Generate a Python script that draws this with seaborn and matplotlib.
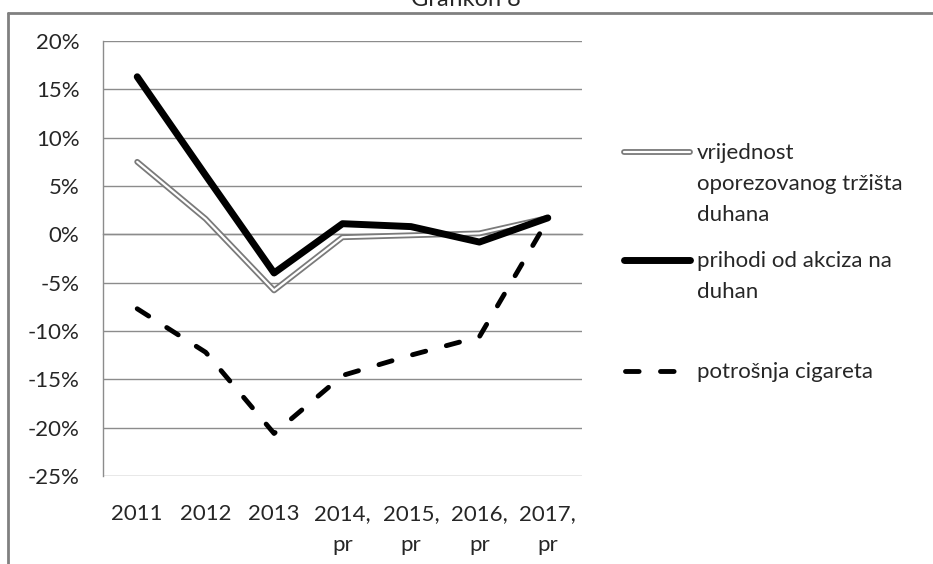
import seaborn as sns
import matplotlib.pyplot as plt
import matplotlib.ticker as ticker
import matplotlib.patheffects as pe
from matplotlib.lines import Line2D
import pandas as pd

sns.set_style("white")
plt.rcParams["font.family"] = ["Lato", "DejaVu Sans"]
plt.rcParams["font.size"] = 16

# data (% change)
years = ["2011", "2012", "2013", "2014,\npr", "2015,\npr", "2016,\npr", "2017,\npr"]
vrijednost = [7.5, 1.6, -5.8, -0.3, -0.1, 0.1, 1.7]
prihodi = [16.3, 6.1, -4.0, 1.1, 0.8, -0.8, 1.7]
potrosnja = [-7.7, -12.2, -20.6, -14.6, -12.5, -10.6, 1.5]

labels = ["vrijednost\noporezovanog tržišta\nduhana",
          "prihodi od akciza na\nduhan",
          "potrošnja cigareta"]

df = pd.DataFrame({"idx": range(len(years)),
                   "vrijednost": [v / 100 for v in vrijednost],
                   "prihodi": [v / 100 for v in prihodi],
                   "potrosnja": [v / 100 for v in potrosnja]})

W, H = 933, 564
fig = plt.figure(figsize=(W / 100, H / 100), dpi=100)
ax = fig.add_axes([103 / W, 1 - 476 / H, (582 - 103) / W, (476 - 41) / H])

grid_c = "#8c8c8c"
txt_c = "#262626"
double = [pe.Stroke(linewidth=4.2, foreground="#7a7a7a"), pe.Stroke(linewidth=1.6, foreground="white")]
dash_kw = dict(color="black", lw=3.5, dashes=(2.8, 4.4), dash_capstyle="round")

sns.lineplot(data=df, x="idx", y="vrijednost", ax=ax, color="white", lw=1.6,
             path_effects=double, zorder=3)
sns.lineplot(data=df, x="idx", y="prihodi", ax=ax, color="black", lw=5, zorder=4,
             solid_capstyle="round")
sns.lineplot(data=df, x="idx", y="potrosnja", ax=ax, zorder=3, **dash_kw)

ax.set_xlim(-0.5, len(years) - 0.5)
ax.set_ylim(-0.25, 0.20)
ax.yaxis.set_major_locator(ticker.MultipleLocator(0.05))
ax.yaxis.set_major_formatter(ticker.FuncFormatter(lambda v, p: f"{round(v * 100)}%"))
ax.grid(True, axis="y", color=grid_c, lw=1)
ax.set_axisbelow(True)
ax.set_xlabel("")
ax.set_ylabel("")

for s in ["top", "right"]:
    ax.spines[s].set_visible(False)
ax.spines["left"].set_color(grid_c)
ax.spines["left"].set_linewidth(1)
# category axis crosses at 0%, ticks between categories
ax.spines["bottom"].set_position(("data", 0))
ax.spines["bottom"].set_color(grid_c)
ax.spines["bottom"].set_linewidth(1)
ax.set_xticks([i + 0.5 for i in range(len(years))])
ax.tick_params(axis="x", which="both", direction="out", length=6, color=grid_c,
               labelbottom=False)
ax.tick_params(axis="y", direction="out", length=6, color=grid_c, pad=11,
               labelsize=16, labelcolor=txt_c)

sec = ax.secondary_xaxis("bottom")
sec.set_xticks(range(len(years)))
sec.set_xticklabels(years, fontsize=16, color=txt_c, linespacing=1.7)
sec.tick_params(length=0, pad=20)
sec.spines["bottom"].set_visible(False)

# legend, drawn to look like the Excel one
lx0, lx1, tx = 622 / W, 690 / W, 697 / W
entries = [
    (152, [624 / W, lx1], dict(color="white", lw=1.6, path_effects=double)),
    (260, [624 / W, lx1], dict(color="black", lw=5, solid_capstyle="round")),
    (371, [624.5 / W, lx1], dash_kw),
]
for (yp, xs, kw), lab in zip(entries, labels):
    y = 1 - yp / H
    fig.add_artist(Line2D(xs, [y, y], transform=fig.transFigure, **kw))
    fig.text(tx, y + 9 / H, lab, va="top", ha="left", fontsize=16, color=txt_c,
             linespacing=1.7)

# chart frame and (cut off) title
fy = 1 - 13 / H
fig.add_artist(Line2D([8 / W, 1], [fy, fy], transform=fig.transFigure, color="#808080", lw=2))
fig.add_artist(Line2D([8 / W, 8 / W], [fy, 0], transform=fig.transFigure, color="#808080", lw=2))
fig.text(466 / W, 1 - 6 / H, "Grafikon 8", ha="center", va="baseline", fontsize=17, color=txt_c)

plt.savefig("out.png", dpi=100)
